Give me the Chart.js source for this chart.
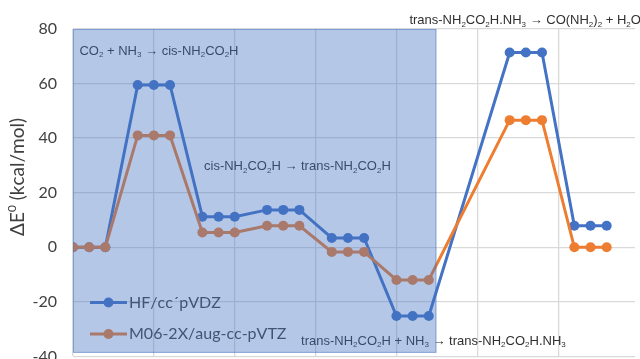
<!DOCTYPE html>
<html>
<head>
<meta charset="utf-8">
<script src="https://cdn.jsdelivr.net/npm/chart.js@4.4.1/dist/chart.umd.min.js"></script>
<style>
html,body{margin:0;padding:0;background:#fff;overflow:hidden;}
#wrap{width:640px;height:359px;overflow:hidden;position:relative;}
canvas{display:block;}
</style>
</head>
<body>
<div id="wrap"><canvas id="c" width="640" height="382"></canvas></div>
<script>
// ---- data ----
const steps = [0,1,2,4,5,6,8,9,10,12,13,14,16,17,18,20,21,22,27,28,29,31,32,33];
const hfValues = [0,0,0,59.5,59.5,59.5,11.2,11.2,11.2,13.7,13.7,13.7,3.4,3.4,3.4,-25.2,-25.2,-25.2,71.4,71.4,71.4,7.9,7.9,7.9];
const m06Values = [0,0,0,41.0,41.0,41.0,5.4,5.4,5.4,7.9,7.9,7.9,-1.7,-1.7,-1.7,-12.0,-12.0,-12.0,46.6,46.6,46.6,0,0,0];
const seriesNames = ['HF/cc´pVDZ','M06-2X/aug-cc-pVTZ'];
const yTicks = [-40,-20,0,20,40,60,80];
const yTitle = 'ΔE^0 (kcal/mol)';
// reaction labels: text (with _ for subscript), anchor step, anchor value
const reactionLabels = [
  {text:'CO_2 + NH_3 → cis-NH_2CO_2H', x:0.4, y:71.9},
  {text:'cis-NH_2CO_2H → trans-NH_2CO_2H', x:8.1, y:29.7},
  {text:'trans-NH_2CO_2H + NH_3 → trans-NH_2CO_2H.NH_3', x:14.1, y:-34.4},
  {text:'trans-NH_2CO_2H.NH_3 → CO(NH_2)_2 + H_2O', x:20.8, y:83.2}
];
const shadedRange = {x0:0, x1:22.47, y0:-38.7, y1:80};

const BLUE = '#4472c4', ORANGE = '#ed7d31';

function drawRich(ctx, str, x, y, size, family, color, align){
  const segs = [];
  for (let i=0;i<str.length;i++){
    const ch = str[i];
    if ((ch==='_'||ch==='^') && i+1<str.length){
      segs.push({t:str[i+1], k:ch}); i++;
    } else segs.push({t:ch, k:''});
  }
  const subSize = Math.round(size*0.62);
  ctx.save();
  ctx.fillStyle = color;
  ctx.textBaseline = 'middle';
  ctx.textAlign = 'left';
  let total = 0;
  for (const s of segs){
    ctx.font = (s.k? subSize : size)+'px '+family;
    s.w = ctx.measureText(s.t).width; total += s.w;
  }
  let cx = align==='center' ? x - total/2 : x;
  for (const s of segs){
    ctx.font = (s.k? subSize : size)+'px '+family;
    let dy = 0;
    if (s.k==='_') dy = size*0.32;
    if (s.k==='^') dy = -size*0.3;
    ctx.fillText(s.t, cx, y+dy);
    cx += s.w;
  }
  ctx.restore();
}

const overlayPlugin = {
  id:'overlay',
  afterDatasetsDraw(chart){
    const ctx = chart.ctx, xs = chart.scales.x, ys = chart.scales.y;
    // legend
    const rows = [302.5, 334];
    chart.data.datasets.forEach((ds,i)=>{
      const yy = rows[i];
      ctx.save();
      ctx.strokeStyle = ds.borderColor; ctx.lineWidth = 3;
      ctx.beginPath(); ctx.moveTo(90,yy); ctx.lineTo(127,yy); ctx.stroke();
      ctx.fillStyle = ds.borderColor;
      ctx.beginPath(); ctx.arc(108.5,yy,5,0,Math.PI*2); ctx.fill();
      ctx.restore();
      drawRich(ctx, ds.label, 129, yy, 16, 'Lato', '#404040', 'left');
    });
    // reaction labels
    reactionLabels.forEach(l=>{
      drawRich(ctx, l.text, xs.getPixelForValue(l.x), ys.getPixelForValue(l.y), 13, '"Liberation Sans"', '#303030', 'left');
    });
    // shaded region
    const x0 = xs.getPixelForValue(shadedRange.x0), x1 = xs.getPixelForValue(shadedRange.x1);
    const y0 = ys.getPixelForValue(shadedRange.y1), y1 = ys.getPixelForValue(shadedRange.y0);
    ctx.save();
    ctx.fillStyle = 'rgba(68,114,196,0.40)';
    ctx.fillRect(x0,y0,x1-x0,y1-y0);
    ctx.strokeStyle = 'rgba(68,114,196,0.45)';
    ctx.lineWidth = 1;
    ctx.strokeRect(x0+0.5,y0+0.5,x1-x0-1,y1-y0-1);
    ctx.restore();
    // y title
    ctx.save();
    ctx.translate(18, 177);
    ctx.rotate(-Math.PI/2);
    drawRich(ctx, yTitle, 0, 0, 19, 'Lato', '#404040', 'center');
    ctx.restore();
  }
};

new Chart(document.getElementById('c'), {
  type:'line',
  data:{
    datasets:[
      {label:seriesNames[0], data:steps.map((s,i)=>({x:s,y:hfValues[i]})), borderColor:BLUE, backgroundColor:BLUE, borderWidth:3, pointRadius:5, pointHoverRadius:5, pointBorderWidth:0, tension:0, order:1},
      {label:seriesNames[1], data:steps.map((s,i)=>({x:s,y:m06Values[i]})), borderColor:ORANGE, backgroundColor:ORANGE, borderWidth:3, pointRadius:5, pointHoverRadius:5, pointBorderWidth:0, tension:0, order:0}
    ]
  },
  options:{
    responsive:false,
    animation:false,
    devicePixelRatio:1,
    layout:{padding:{top:29,bottom:5,left:0,right:0}},
    plugins:{legend:{display:false}, tooltip:{enabled:false}},
    scales:{
      x:{type:'linear', min:0, max:34.75,
        ticks:{display:false, stepSize:5},
        afterBuildTicks(s){ s.ticks=[0,5,10,15,20,25,30].map(v=>({value:v})); },
        afterFit(s){ s.height = 0; },
        grid:{color:'#d9d9d9', lineWidth:1.3, drawTicks:false},
        border:{display:false}},
      y:{min:-40, max:80,
        afterBuildTicks(s){ s.ticks = yTicks.map(v=>({value:v})); },
        afterFit(s){ s.width = 73; },
        ticks:{padding:16, color:'#404040', font:{family:'Lato', size:16}},
        grid:{color:'#d9d9d9', lineWidth:1.3, drawTicks:false},
        border:{display:false}}
    }
  },
  plugins:[overlayPlugin]
});
</script>
</body>
</html>
